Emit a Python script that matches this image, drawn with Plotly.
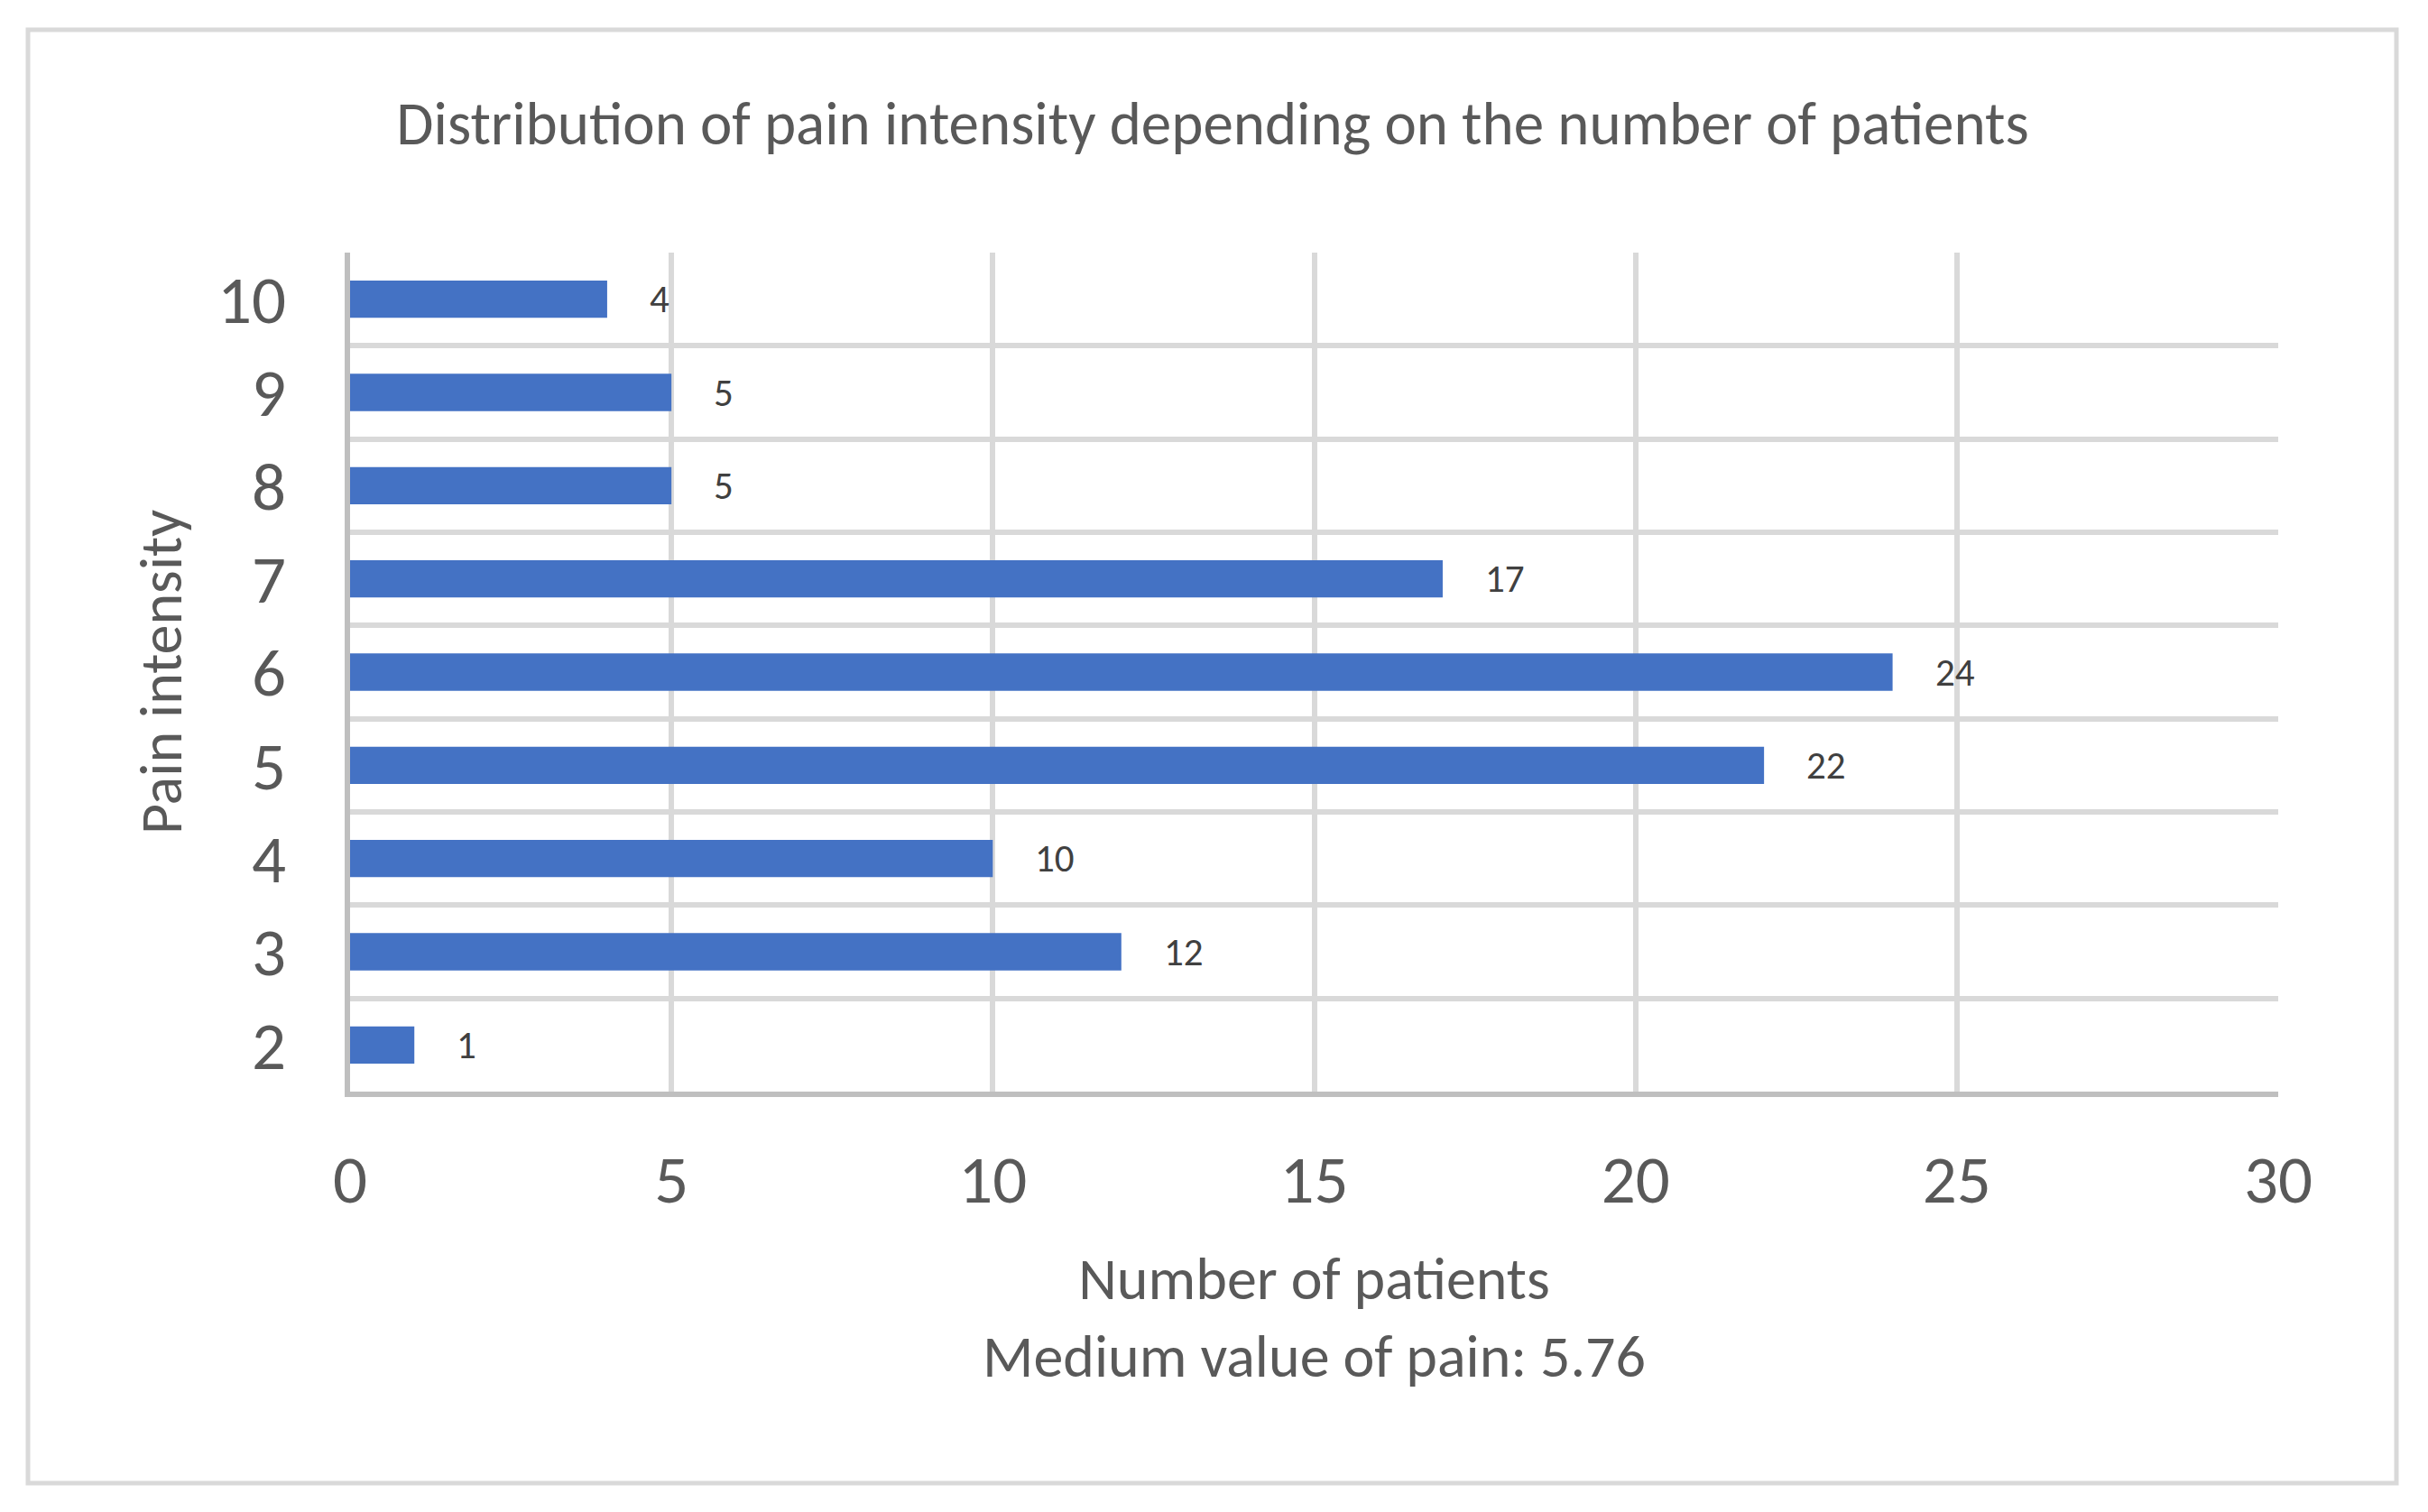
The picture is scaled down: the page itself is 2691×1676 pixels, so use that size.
import plotly.graph_objects as go

# ---- data ----
pain_intensity = ["2", "3", "4", "5", "6", "7", "8", "9", "10"]
patients = [1, 12, 10, 22, 24, 17, 5, 5, 4]
x_ticks = [0, 5, 10, 15, 20, 25, 30]

title_text = "Distribution of pain intensity depending on the number of patients"
x_title = "Number of patients<br>Medium value of pain: 5.76"
y_title = "Pain intensity"

FONT = "Carlito, Lato, sans-serif"
W, H = 2691, 1676
L, R, T, B = 380, 174, 272, 474

fig = go.Figure()
fig.add_trace(go.Bar(
    x=patients, y=pain_intensity, orientation="h",
    marker=dict(color="#4472C4", line=dict(width=0)),
    hoverinfo="x+y",
))

# data labels (y given as category index on the category axis)
for i, v in enumerate(patients):
    fig.add_annotation(x=v, y=i, text=str(v), showarrow=False,
                       xanchor="left", yanchor="middle", xshift=45,
                       font=dict(family=FONT, size=43, color="#404040"))

pw = W - L - R
ph = H - T - B
# outer chart border (decoration)
fig.add_shape(type="rect", xref="paper", yref="paper",
              x0=(23 - L) / pw, x1=(2648 - L) / pw,
              y0=(H - B - 1636) / ph, y1=(H - B - 25) / ph,
              line=dict(color="#D9D9D9", width=5), layer="below")

fig.update_layout(
    width=W, height=H,
    margin=dict(l=L, r=R, t=T, b=B),
    paper_bgcolor="white", plot_bgcolor="white",
    bargap=0.6, showlegend=False,
    font=dict(family=FONT, color="#595959"),
    title=dict(text=title_text, x=1336 / W, xanchor="center",
               y=1 - 129 / H, yanchor="middle",
               font=dict(family=FONT, size=67, color="#595959")),
)
fig.update_xaxes(
    range=[0, 30], tickvals=x_ticks, showgrid=True, gridcolor="#D9D9D9", gridwidth=6,
    zeroline=False, showline=True, linecolor="#BFBFBF", linewidth=6,
    tickfont=dict(family=FONT, size=75, color="#595959"), ticks="",
    ticklabelstandoff=27,
    title=dict(text=x_title, font=dict(family=FONT, size=66, color="#595959"), standoff=44),
)
fig.update_yaxes(
    type="category", categoryorder="array", categoryarray=pain_intensity,
    range=[-0.5, len(pain_intensity) - 0.5],
    tickson="boundaries", showgrid=True, gridcolor="#D9D9D9", gridwidth=6,
    zeroline=False, showline=True, linecolor="#BFBFBF", linewidth=6, ticks="",
    tickfont=dict(family=FONT, size=75, color="#595959"),
    ticklabelstandoff=50,
    title=dict(text=y_title, font=dict(family=FONT, size=66, color="#595959"), standoff=20),
)

fig.write_html("out.html")
